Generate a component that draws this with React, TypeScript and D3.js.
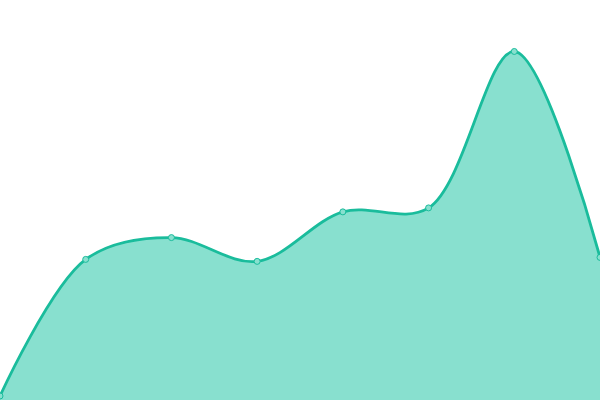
import React from "react";
import * as d3 from "d3";

const labels = ["A", "B", "C", "D", "E", "F", "G", "H"];
const values = [0, 34.5, 40, 34, 46.5, 47.5, 87, 35];

const W = 600;
const H = 400;

const App: React.FC = () => {
  const x = d3.scalePoint<string>().domain(labels).range([0, W]);
  const y = d3.scaleLinear().domain([0, 100]).range([396, 0]);

  const pts = labels.map((l, i) => ({ l, v: values[i] }));

  // same smoothing for the fill and the outline
  const curve = d3.curveCatmullRom.alpha(0.5);

  const area = d3
    .area<{ l: string; v: number }>()
    .x((d) => x(d.l) as number)
    .y0(H)
    .y1((d) => y(d.v))
    .curve(curve);

  const line = d3
    .line<{ l: string; v: number }>()
    .x((d) => x(d.l) as number)
    .y((d) => y(d.v))
    .curve(curve);

  return (
    <svg
      width={W}
      height={H}
      style={{ position: "absolute", left: 0, top: 0, display: "block" }}
    >
      <path d={area(pts) ?? ""} fill="#88e0cf" />
      <path d={line(pts) ?? ""} fill="none" stroke="#1abc9c" strokeWidth={2.8} />
      {pts.map((d) => (
        <circle
          key={d.l}
          cx={x(d.l)}
          cy={y(d.v)}
          r={3}
          fill="#88e0cf"
          stroke="#1abc9c"
          strokeWidth={1}
        />
      ))}
    </svg>
  );
};

export default App;
